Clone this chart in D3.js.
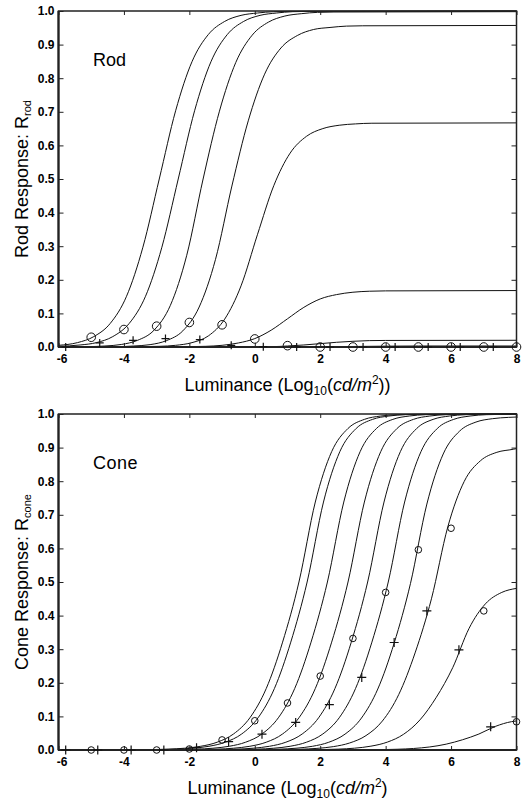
<!DOCTYPE html>
<html>
<head>
<meta charset="utf-8">
<script src="https://cdn.jsdelivr.net/npm/d3@7"></script>
<style>
body { margin: 0; background: #fff; }
text { font-family: Arial, "Liberation Sans", sans-serif; fill: #000; }
.tick text { font-weight: bold; font-size: 12px; }
</style>
</head>
<body>
<svg id="chart" width="529" height="800"></svg>
<script>
// x ticks and y ticks shared by both panels
var lumTicks = [-6, -4, -2, 0, 2, 4, 6, 8];
var respTicks = [0, 0.1, 0.2, 0.3, 0.4, 0.5, 0.6, 0.7, 0.8, 0.9, 1.0];

// ---- rod response curves, one per adapting luminance (log cd/m2) ----
var rodM5 = [[-6,0.005],[-5.42,0.013],[-4.92,0.031],[-4.42,0.070],[-3.92,0.151],[-3.42,0.297],[-2.92,0.5],[-2.42,0.703],[-1.92,0.849],[-1.42,0.930],[-0.92,0.969],[-0.42,0.987],[0.08,0.994],[0.58,0.998],[1.08,0.999],[8,1.0]];
var rodM4 = [[-6,0.002],[-5.34,0.006],[-4.84,0.013],[-4.34,0.031],[-3.84,0.070],[-3.34,0.151],[-2.84,0.297],[-2.34,0.5],[-1.84,0.703],[-1.34,0.849],[-0.84,0.930],[-0.34,0.969],[0.16,0.987],[0.66,0.994],[1.16,0.998],[1.66,0.999],[8,1.0]];
var rodM3 = [[-6,0],[-5.08,0.001],[-4.58,0.003],[-4.08,0.0075],[-3.58,0.020],[-3.08,0.050],[-2.58,0.124],[-2.08,0.273],[-1.58,0.5],[-1.08,0.702],[-0.58,0.847],[-0.08,0.928],[0.42,0.967],[0.92,0.985],[1.42,0.992],[1.92,0.996],[2.42,0.997],[8,0.998]];
var rodM2 = [[-6,0],[-4.2,0.001],[-3.7,0.003],[-3.2,0.007],[-2.7,0.019],[-2.2,0.048],[-1.7,0.119],[-1.2,0.261],[-0.7,0.479],[-0.2,0.673],[0.3,0.812],[0.8,0.890],[1.3,0.927],[1.8,0.945],[2.3,0.951],[2.8,0.955],[3.3,0.956],[8,0.957]];
var rodM1 = [[-6,0],[-3.42,0.001],[-2.92,0.002],[-2.42,0.005],[-1.92,0.013],[-1.42,0.033],[-0.92,0.083],[-0.42,0.182],[0.08,0.334],[0.58,0.480],[1.08,0.577],[1.58,0.627],[2.08,0.650],[2.58,0.660],[3.08,0.664],[3.58,0.666],[8,0.667]];
var rod0 = [[-6,0],[-2,0.001],[-1.5,0.002],[-1,0.005],[-0.5,0.012],[0,0.025],[0.5,0.050],[1,0.084],[1.5,0.118],[2,0.143],[2.5,0.156],[3,0.163],[3.5,0.166],[4,0.167],[8,0.168]];
var rod1 = [[-6,0],[0,0.001],[0.5,0.001],[1,0.003],[1.5,0.006],[2,0.010],[2.5,0.014],[3,0.017],[3.5,0.019],[4,0.0195],[8,0.02]];
var rod2 = [[-6,0],[1,0],[2,0.0005],[3,0.0015],[4,0.0025],[5,0.003],[8,0.003]];
var rod3to8 = [[-6,0],[4,0.0003],[8,0.0005]];

// markers on the rod curves
var rodCircleLum = [-5, -4, -3, -2, -1, 0, 1, 2, 3, 4, 5, 6, 7, 8];
var rodCircleR   = [0.029, 0.052, 0.062, 0.073, 0.066, 0.024, 0.004, 0, 0, 0, 0, 0, 0, 0];
var rodCrossLum  = [-5.78, -4.74, -3.72, -2.73, -1.68, -0.72, 0.26, 1.28, 2.30, 3.31, 4.29, 5.30, 6.28, 7.29];
var rodCrossR    = [0, 0.012, 0.020, 0.025, 0.022, 0.005, 0.001, 0, 0, 0, 0, 0, 0, 0];

// ---- cone response curves ----
var coneLow = [[-6,0],[-3.65,0.0006],[-3.15,0.0012],[-2.65,0.0025],[-2.15,0.0053],[-1.65,0.0111],[-1.15,0.0232],[-0.65,0.0477],[-0.15,0.0958],[0.35,0.183],[0.85,0.321],[1.35,0.5],[1.85,0.738],[2.35,0.888],[2.85,0.957],[3.35,0.984],[3.85,0.994],[4.35,0.998],[4.85,0.999],[8,1.0]];
var cone0 = [[-6,0],[-3.4,0.0006],[-2.9,0.0012],[-2.4,0.0025],[-1.9,0.0053],[-1.4,0.0111],[-0.9,0.0232],[-0.4,0.0477],[0.1,0.0958],[0.6,0.183],[1.1,0.321],[1.6,0.5],[2.1,0.738],[2.6,0.888],[3.1,0.957],[3.6,0.984],[4.1,0.994],[4.6,0.998],[5.1,0.999],[8,1.0]];
var cone1 = [[-6,0],[-2.78,0.0006],[-2.28,0.0012],[-1.78,0.0025],[-1.28,0.0053],[-0.78,0.0111],[-0.28,0.0232],[0.22,0.0477],[0.72,0.0958],[1.22,0.183],[1.72,0.321],[2.22,0.5],[2.72,0.738],[3.22,0.888],[3.72,0.957],[4.22,0.984],[4.72,0.994],[5.22,0.998],[5.72,0.999],[8,1.0]];
var cone2 = [[-6,0],[-2.15,0.0006],[-1.65,0.0012],[-1.15,0.0025],[-0.65,0.0053],[-0.15,0.0111],[0.35,0.0232],[0.85,0.0477],[1.35,0.0958],[1.85,0.183],[2.35,0.321],[2.85,0.5],[3.35,0.738],[3.85,0.888],[4.35,0.957],[4.85,0.984],[5.35,0.994],[5.85,0.998],[6.35,0.999],[8,1.0]];
var cone3 = [[-6,0],[-1.55,0.0006],[-1.05,0.0012],[-0.55,0.0025],[-0.05,0.0053],[0.45,0.0111],[0.95,0.0232],[1.45,0.0477],[1.95,0.0958],[2.45,0.183],[2.95,0.321],[3.45,0.5],[3.95,0.738],[4.45,0.888],[4.95,0.957],[5.45,0.984],[5.95,0.994],[6.45,0.998],[6.95,0.999],[8,1.0]];
var cone4 = [[-6,0],[-0.92,0.0006],[-0.42,0.0012],[0.08,0.0025],[0.58,0.0053],[1.08,0.0111],[1.58,0.0232],[2.08,0.0477],[2.58,0.0958],[3.08,0.183],[3.58,0.321],[4.08,0.5],[4.58,0.738],[5.08,0.888],[5.58,0.957],[6.08,0.984],[6.58,0.994],[7.08,0.998],[7.58,0.999],[8,1.0]];
var cone5 = [[-6,0],[-0.24,0.0006],[0.26,0.0012],[0.76,0.0025],[1.26,0.0053],[1.76,0.011],[2.26,0.023],[2.76,0.0473],[3.26,0.095],[3.76,0.1815],[4.26,0.318],[4.76,0.496],[5.26,0.732],[5.76,0.881],[6.26,0.949],[6.76,0.976],[7.26,0.986],[7.76,0.990],[8,0.991]];
var cone6 = [[-6,0],[0.4,0.0005],[0.9,0.0011],[1.4,0.0023],[1.9,0.0048],[2.4,0.010],[2.9,0.0209],[3.4,0.0429],[3.9,0.0862],[4.4,0.165],[4.9,0.289],[5.4,0.45],[5.9,0.664],[6.4,0.799],[6.9,0.861],[7.4,0.886],[7.9,0.895],[8,0.897]];
var cone7 = [[-6,0],[1.05,0.0003],[1.55,0.0006],[2.05,0.0012],[2.55,0.0026],[3.05,0.0054],[3.55,0.0114],[4.05,0.0234],[4.55,0.0469],[5.05,0.0897],[5.55,0.157],[6.05,0.245],[6.55,0.362],[7.05,0.435],[7.55,0.469],[8,0.481]];
var cone8 = [[-6,0],[3.35,0.0005],[3.85,0.001],[4.35,0.0022],[4.85,0.0045],[5.35,0.0091],[5.85,0.0174],[6.35,0.0305],[6.85,0.0475],[7.35,0.0701],[7.85,0.0844],[8,0.0865]];

var coneCircleLum = [-5, -4, -3, -2, -1, 0, 1, 2, 3, 4, 5, 6, 7, 8];
var coneCircleR   = [0, 0, 0, 0.003, 0.030, 0.087, 0.140, 0.220, 0.332, 0.469, 0.596, 0.660, 0.414, 0.084];
var coneCrossLum  = [-5.78, -4.80, -3.78, -2.78, -1.78, -0.80, 0.22, 1.25, 2.28, 3.27, 4.26, 5.26, 6.24, 7.21];
var coneCrossR    = [0, 0, 0, 0, 0.007, 0.025, 0.047, 0.082, 0.135, 0.216, 0.320, 0.414, 0.298, 0.069];

var svg = d3.select("#chart");
var left = 58.5, right = 516.5;

var x = d3.scaleLinear().domain([-6, 8]).range([left, right]);

function drawPanel(p)
{
    var y = d3.scaleLinear().domain([0, 1]).range([p.bottom, p.top]);
    var g = svg.append("g");

    var line = d3.line()
	.x(function(d) { return x(d[0]); })
	.y(function(d) { return y(d[1]); })
	.curve(d3.curveMonotoneX);

    g.selectAll("path.curve")
	.data(p.curves)
	.enter().append("path")
	.attr("class", "curve")
	.attr("d", line)
	.attr("fill", "none")
	.attr("stroke", "#111")
	.attr("stroke-width", 1);

    // axes, ticks point into the plot
    var ax = g.append("g").attr("transform", "translate(0," + p.bottom + ")")
	.call(d3.axisBottom(x).tickValues(lumTicks).tickSize(-4).tickPadding(7)
	      .tickFormat(function(d) { return d; }));
    ax.selectAll("text").attr("dx", function(d) { return d == -6 ? 3 : 0; });
    g.append("g").attr("transform", "translate(0," + p.top + ")")
	.call(d3.axisTop(x).tickValues(lumTicks).tickSize(-4).tickFormat(""));
    g.append("g").attr("transform", "translate(" + left + ",0)")
	.call(d3.axisLeft(y).tickValues(respTicks).tickSize(-5).tickPadding(4)
	      .tickFormat(d3.format(".1f")));
    g.append("g").attr("transform", "translate(" + right + ",0)")
	.call(d3.axisRight(y).tickValues(respTicks).tickSize(-5).tickFormat(""));
    g.selectAll(".domain").remove();
    g.selectAll(".tick line").attr("stroke", "#222");

    g.append("rect")
	.attr("x", left).attr("y", p.top)
	.attr("width", right - left).attr("height", p.bottom - p.top)
	.attr("fill", "none").attr("stroke", "#222").attr("stroke-width", 1.5);
    g.append("line")
	.attr("x1", left).attr("x2", left).attr("y1", p.top).attr("y2", p.bottom)
	.attr("stroke", "#222").attr("stroke-width", 2.2);
    g.append("line")
	.attr("x1", left).attr("x2", right).attr("y1", p.bottom).attr("y2", p.bottom)
	.attr("stroke", "#222").attr("stroke-width", 2);

    // circles at the adapting luminance
    g.selectAll("circle.mk")
	.data(p.circleLum)
	.enter().append("circle")
	.attr("class", "mk")
	.attr("cx", function(d) { return x(d); })
	.attr("cy", function(d, i) { return y(p.circleR[i]); })
	.attr("r", p.r)
	.attr("fill", "none").attr("stroke", "#111").attr("stroke-width", 1);

    var sym = d3.symbol().type(d3.symbolCross);
    g.selectAll("path.cross")
	.data(p.crossLum)
	.enter().append("path")
	.attr("class", "cross")
	.attr("transform", function(d, i) { return "translate(" + x(d) + "," + y(p.crossR[i]) + ")"; })
	.attr("d", "M" + (-p.c) + ",0H" + p.c + "M0," + (-p.c) + "V" + p.c)
	.attr("stroke", "#111").attr("stroke-width", 1.2).attr("fill", "none");

    // panel name
    g.append("text")
	.attr("x", 93).attr("y", p.nameY)
	.style("font-size", "18px")
	.style("letter-spacing", p.spacing)
	.text(p.name);

    // x title
    var xt = g.append("text")
	.attr("x", (left + right) / 2).attr("y", p.bottom + 44)
	.attr("text-anchor", "middle")
	.style("font-size", "18px");
    xt.append("tspan").text("Luminance (Log");
    xt.append("tspan").attr("dy", 4).style("font-size", "12px").text("10");
    xt.append("tspan").attr("dy", -4).text("(");
    xt.append("tspan").style("font-style", "italic").text("cd/m");
    xt.append("tspan").attr("dy", -7).style("font-size", "12px").text("2");
    xt.append("tspan").attr("dy", 7).text(p.close);

    // y title
    var yt = g.append("text")
	.attr("transform", "translate(28," + ((p.top + p.bottom) / 2) + ") rotate(-90)")
	.attr("text-anchor", "middle")
	.style("font-size", "18px");
    yt.append("tspan").text(p.yname + " Response: R");
    yt.append("tspan").attr("dy", 3).style("font-size", "11px").text(p.sub);
}

drawPanel({
    top: 11, bottom: 347, name: "Rod", nameY: 66, spacing: "0px",
    yname: "Rod", sub: "rod", close: "))",
    curves: [rodM5, rodM4, rodM3, rodM2, rodM1, rod0, rod1, rod2, rod3to8],
    circleLum: rodCircleLum, circleR: rodCircleR,
    crossLum: rodCrossLum, crossR: rodCrossR,
    r: 4.3, c: 4
});

drawPanel({
    top: 414, bottom: 750, name: "Cone", nameY: 469, spacing: "0.5px",
    yname: "Cone", sub: "cone", close: ")",
    curves: [coneLow, cone0, cone1, cone2, cone3, cone4, cone5, cone6, cone7, cone8],
    circleLum: coneCircleLum, circleR: coneCircleR,
    crossLum: coneCrossLum, crossR: coneCrossR,
    r: 3.3, c: 4.5
});
</script>
</body>
</html>
